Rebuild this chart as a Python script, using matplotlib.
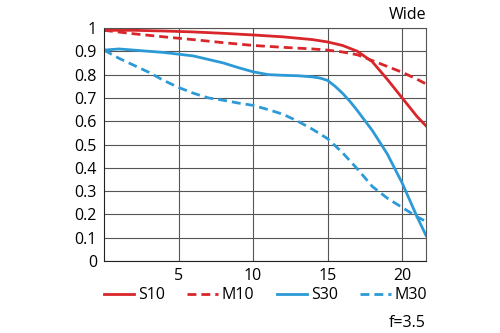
import numpy as np
import matplotlib
matplotlib.use("Agg")
import matplotlib.pyplot as plt
from matplotlib.lines import Line2D

plt.rcParams['font.family'] = ['Open Sans', 'DejaVu Sans']

# Datos
s10_x = [0, 2, 4, 6, 8, 10, 12, 14, 15, 16, 17, 18, 19, 20, 21, 21.6]
s10_y = [0.99, 0.99, 0.987, 0.983, 0.977, 0.97, 0.962, 0.95, 0.94, 0.925, 0.90, 0.855, 0.78, 0.70, 0.62, 0.58]

m10_x = [0, 2, 4, 6, 8, 10, 12, 14, 15, 16, 17, 18, 19, 20, 21, 21.6]
m10_y = [0.99, 0.975, 0.962, 0.95, 0.937, 0.925, 0.917, 0.91, 0.905, 0.897, 0.885, 0.86, 0.835, 0.81, 0.78, 0.76]

s30_x = [0, 1, 2, 4, 6, 8, 9, 10, 11, 12, 13, 14, 14.5, 15, 15.5, 16, 16.5, 17, 18, 19, 20, 21, 21.6]
s30_y = [0.905, 0.91, 0.905, 0.895, 0.88, 0.85, 0.83, 0.812, 0.80, 0.797, 0.795, 0.79, 0.785, 0.775,
         0.75, 0.72, 0.685, 0.645, 0.56, 0.46, 0.335, 0.19, 0.11]

m30_x = [0, 1, 2, 3, 4, 5, 6, 7, 8, 9, 10, 11, 12, 13, 14, 15, 16, 17, 18, 19, 20, 21, 21.6]
m30_y = [0.905, 0.87, 0.84, 0.81, 0.775, 0.745, 0.72, 0.70, 0.69, 0.678, 0.668, 0.65, 0.63, 0.60,
         0.565, 0.525, 0.465, 0.395, 0.32, 0.27, 0.23, 0.19, 0.17]

rojo = '#d8262a'
azul = '#2b9ad6'
dash = (0, (3.2, 1.8))
fs = 11.5

fig = plt.figure(figsize=(5, 3.33), dpi=100)
ax = fig.add_axes([0.208, 0.216, 0.644, 0.7])

ax.plot(s10_x, s10_y, color=rojo, lw=2)
ax.plot(m10_x, m10_y, color=rojo, lw=2, linestyle=dash)
ax.plot(s30_x, s30_y, color=azul, lw=2)
ax.plot(m30_x, m30_y, color=azul, lw=2, linestyle=dash)

ax.set_xlim(0, 21.6)
ax.set_ylim(0, 1)
ax.set_xticks([5, 10, 15, 20])
ax.set_yticks(np.arange(0, 1.01, 0.1))
ax.set_yticklabels(['0', '0.1', '0.2', '0.3', '0.4', '0.5', '0.6', '0.7', '0.8', '0.9', '1'])
ax.tick_params(length=0, labelsize=fs, pad=5)
ax.grid(True, color='#555555', lw=0.8)
ax.set_axisbelow(True)
for s in ax.spines.values():
    s.set_color('#555555')
    s.set_linewidth(0.8)
ax.spines['left'].set_color('#222222')
ax.spines['bottom'].set_color('#222222')

fig.text(0.852, 0.955, 'Wide', ha='right', va='center', fontsize=fs)
fig.text(0.852, 0.03, 'f=3.5', ha='right', va='center', fontsize=fs)

handles = [Line2D([], [], color=rojo, lw=2),
           Line2D([], [], color=rojo, lw=2, linestyle=dash),
           Line2D([], [], color=azul, lw=2),
           Line2D([], [], color=azul, lw=2, linestyle=dash)]
fig.legend(handles, ['S10', 'M10', 'S30', 'M30'], loc='center', bbox_to_anchor=(0.531, 0.113),
           ncol=4, frameon=False, fontsize=fs, handlelength=1.9, handletextpad=0.25,
           columnspacing=1.4)

fig.savefig('out.png', dpi=100)
